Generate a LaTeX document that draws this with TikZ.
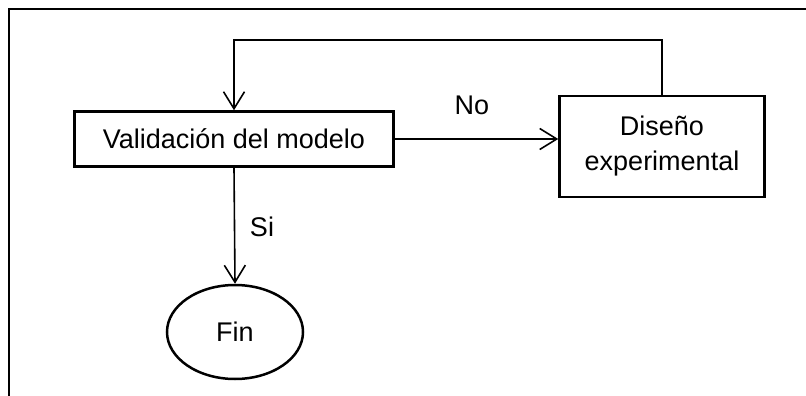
\documentclass[tikz,border=0pt]{standalone}
\usepackage{fontspec}
\setmainfont{Liberation Sans}
\usetikzlibrary{shapes.geometric,arrows.meta}

\tikzset{
    block/.style={draw, line width=2.5pt, align=center, inner sep=0pt,
        font=\fontsize{27}{35}\selectfont},
    endnode/.style={draw, ellipse, line width=2.5pt, inner sep=0pt,
        minimum width=136pt, minimum height=94pt, font=\fontsize{27}{35}\selectfont},
    flow/.style={line width=1.6pt, -{Straight Barb[length=17pt,width=21pt]}},
    tag/.style={font=\fontsize{27}{35}\selectfont}
}

\begin{document}
\begin{tikzpicture}[x=1pt,y=-1pt]
    \useasboundingbox (0,0) rectangle (806,396);
    % frame
    \coordinate (TR) at (806,9);
    \coordinate (TL) at (9,9);
    \coordinate (BL) at (9,396);
    \draw[line width=2.4pt] (TR) -- (TL) -- (BL);

    \node[block, minimum width=319pt, minimum height=55pt] (valid) at (234,139) {Validación del modelo};
    \node[block, minimum width=205pt, minimum height=101pt] (diseno) at (662,146.5) {Diseño\\experimental};
    \node[endnode] (fin) at (235,332) {Fin};
    \coordinate (loop) at (0,40);

    \draw[flow] (valid.east) -- (valid.east -| diseno.west);
    \draw[flow] (valid.south) -- (fin.north);
    \draw[flow] (diseno.north) -- (diseno.north |- loop) -- (valid.north |- loop) -- (valid.north);

    \node[tag] (no) at (472,105) {No};
    \node[tag] (si) at (262,227) {Si};
\end{tikzpicture}
\end{document}
